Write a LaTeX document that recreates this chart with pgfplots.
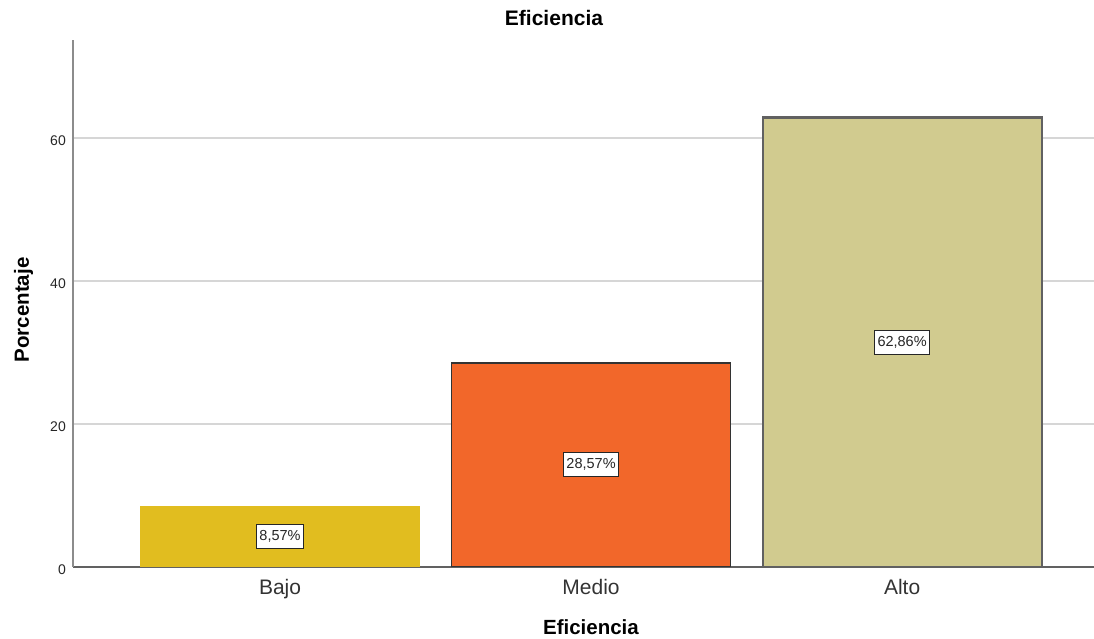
\documentclass[border=0pt]{standalone}
\usepackage{fontspec}
\setmainfont{Liberation Sans}
\usepackage{pgfplots}
\pgfplotsset{compat=1.18}

\definecolor{bajo}{HTML}{E1BD1F}
\definecolor{medio}{HTML}{F2672A}
\definecolor{alto}{HTML}{D1CB8F}
\definecolor{gridgray}{HTML}{D6D6D6}

\begin{document}
\begin{tikzpicture}
% page frame around the plot box
\useasboundingbox (-73pt,-72pt) rectangle (1021pt,567pt);
\begin{axis}[
  at={(0,0)}, anchor=south west,
  scale only axis, width=1021pt, height=527pt,
  xmin=-0.6656, xmax=2.617, ymin=0, ymax=73.7,
  axis lines*=left,
  x axis line style={draw=black!62, line width=1.6pt},
  y axis line style={draw=black!45, line width=1.6pt},
  xtick={0,1,2}, xticklabels={Bajo,Medio,Alto},
  ytick={0,20,40,60},
  major tick length=0pt,
  ymajorgrids, grid style={draw=gridgray, line width=1.6pt},
  /pgf/number format/assume math mode=true,
  yticklabel style={font=\fontsize{14}{16}\selectfont, anchor=east, inner sep=0pt,
    xshift=-7pt, yshift=-3pt, text=black!85},
  xticklabel style={font=\fontsize{21}{24}\selectfont, anchor=base, inner sep=0pt,
    yshift=-28pt, text=black!80},
  title={Eficiencia},
  title style={at={(axis description cs:0.4711,1.0158)}, anchor=base,
    font=\bfseries\fontsize{21}{24}\selectfont},
  xlabel={Eficiencia},
  xlabel style={at={(axis description cs:0.5073,-0.1290)}, anchor=base,
    font=\bfseries\fontsize{20.5}{24}\selectfont},
  ylabel={Porcentaje},
  ylabel style={at={(axis description cs:-0.0431,0.4877)}, anchor=base, rotate=0,
    font=\bfseries\fontsize{20.5}{24}\selectfont},
  % percentage labels sit halfway up each bar
  nodes near coords={\pgfmathprintnumber[fixed, fixed zerofill, precision=2, use comma]{\pgfplotspointmeta}\%},
  visualization depends on={y \as \rawy},
  every node near coord/.append style={anchor=center, yshift={-\rawy*3.5753pt},
    fill=white, draw=black!85, line width=1pt, inner xsep=3pt, inner ysep=6pt,
    font=\fontsize{14.5}{16}\selectfont, text=black!85},
]
\addplot[ybar, bar width=0.897, bar shift=0pt, fill=bajo, draw=bajo] coordinates {(0,8.57)};
\addplot[ybar, bar width=0.897, bar shift=0pt, fill=medio, draw=black!80, line width=1.8pt] coordinates {(1,28.57)};
\addplot[ybar, bar width=0.897, bar shift=0pt, fill=alto, draw=black!62, line width=2.2pt] coordinates {(2,62.86)};
\end{axis}
\end{tikzpicture}
\end{document}
